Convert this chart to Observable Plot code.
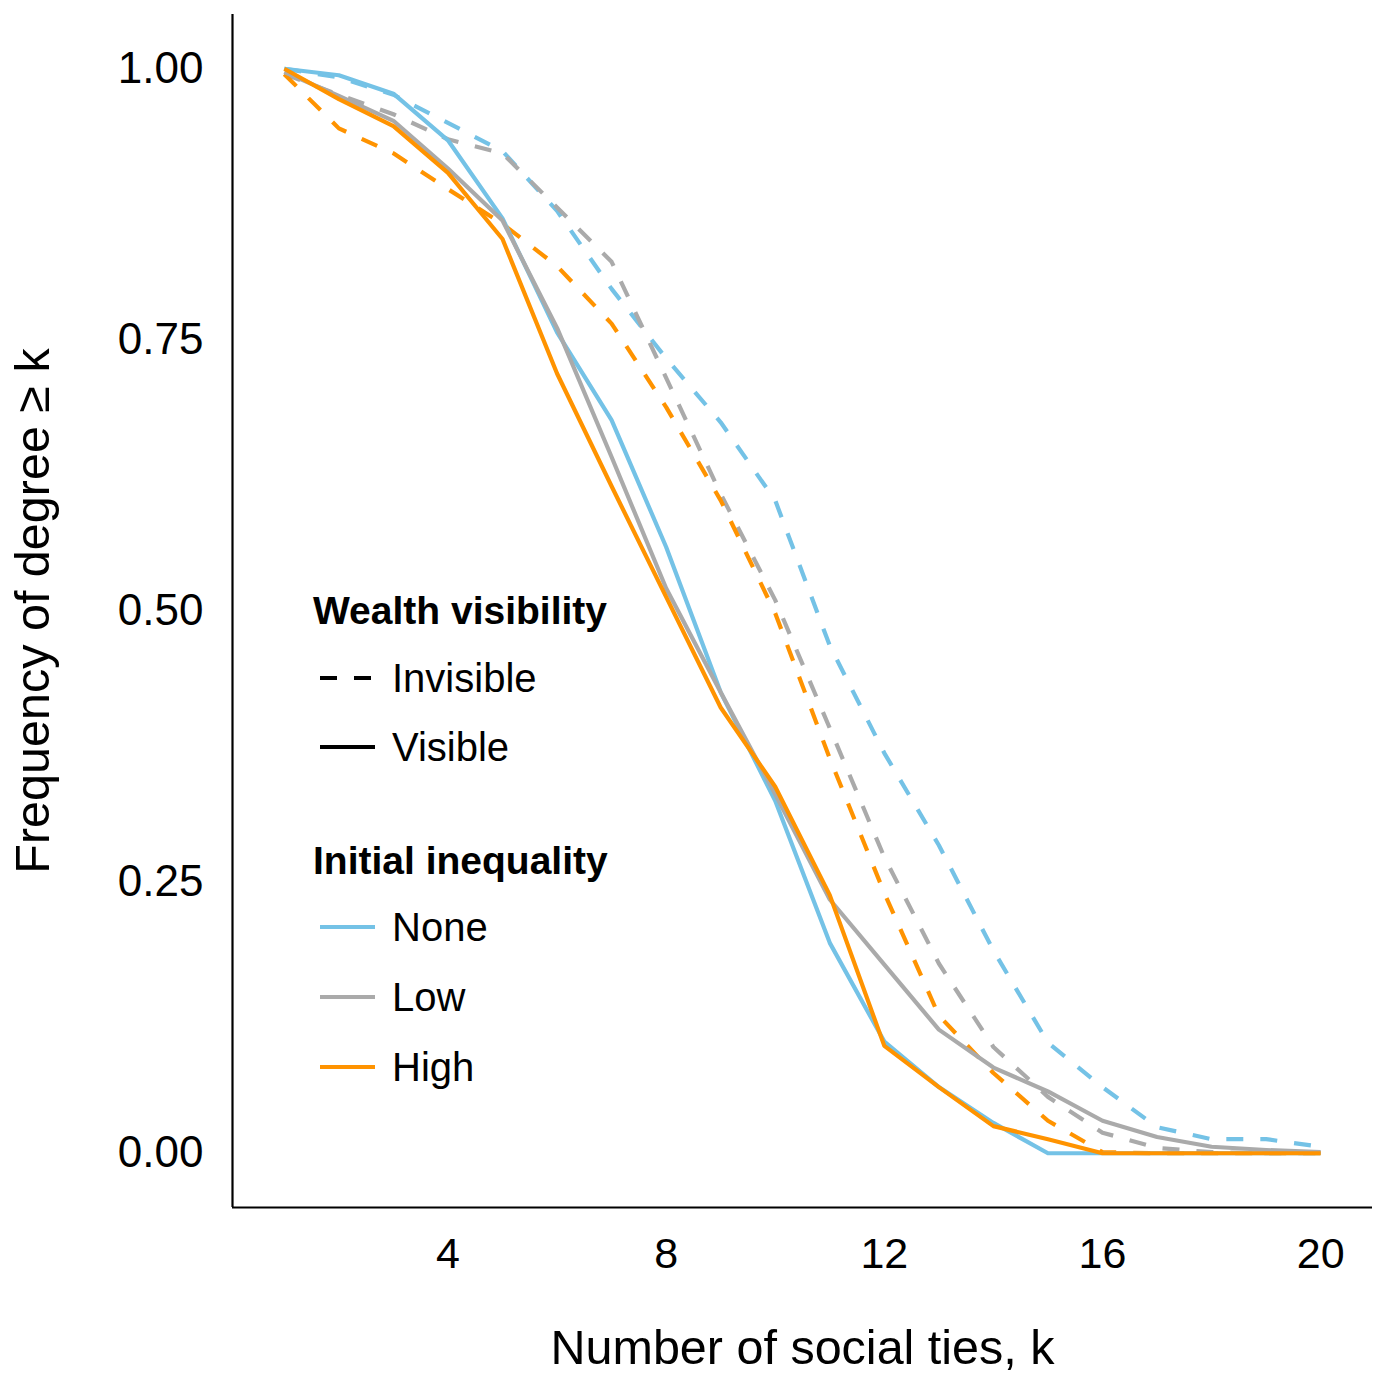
<!DOCTYPE html>
<html>
<head>
<meta charset="utf-8">
<script src="https://cdn.jsdelivr.net/npm/d3@7"></script>
<script src="https://cdn.jsdelivr.net/npm/@observablehq/plot@0.6"></script>
<style>
  body { margin: 0; background: #fff; }
  #wrap { position: relative; width: 1378px; height: 1376px; font-family: "Liberation Sans", Arial, sans-serif; }
  .lg { position: absolute; left: 313px; white-space: nowrap; color: #000; }
  .lg.title { font-weight: bold; font-size: 39px; }
  .lg.item { font-size: 40px; display: flex; align-items: center; left: 320px; }
  .lg.item svg { margin-right: 17px; }
</style>
</head>
<body>
<div id="wrap"></div>
<script>
const ks = [1,2,3,4,5,6,7,8,9,10,11,12,13,14,15,16,17,18,19,20];
const xTicks = [4, 8, 12, 16, 20];
const yTicks = [0, 0.25, 0.5, 0.75, 1];
const inequalityLevels = ["None", "Low", "High"];
const visibilityLevels = ["Invisible", "Visible"];
const inequalityColors = ["#74c2e6", "#aaaaaa", "#ff9300"];

const noneVisible = [1.000, 0.994, 0.977, 0.934, 0.862, 0.757, 0.676, 0.559, 0.425, 0.325, 0.194, 0.103, 0.061, 0.028, 0.000, 0.000, 0.000, 0.000, 0.000, 0.000];
const lowVisible  = [0.997, 0.975, 0.952, 0.908, 0.860, 0.761, 0.642, 0.521, 0.425, 0.331, 0.234, 0.174, 0.114, 0.079, 0.057, 0.030, 0.015, 0.006, 0.003, 0.001];
const highVisible = [1.000, 0.972, 0.947, 0.904, 0.843, 0.719, 0.615, 0.513, 0.411, 0.338, 0.238, 0.099, 0.061, 0.025, 0.013, 0.000, 0.000, 0.000, 0.000, 0.000];
const noneInvisible = [1.000, 0.992, 0.976, 0.950, 0.924, 0.869, 0.797, 0.733, 0.674, 0.602, 0.468, 0.369, 0.284, 0.187, 0.102, 0.061, 0.024, 0.013, 0.013, 0.006];
const lowInvisible  = [0.995, 0.976, 0.958, 0.935, 0.922, 0.872, 0.822, 0.715, 0.608, 0.510, 0.392, 0.273, 0.175, 0.098, 0.052, 0.019, 0.005, 0.001, 0.000, 0.000];
const highInvisible = [0.995, 0.945, 0.922, 0.889, 0.857, 0.818, 0.765, 0.688, 0.602, 0.498, 0.364, 0.240, 0.127, 0.074, 0.030, 0.001, 0.000, 0.000, 0.000, 0.000];

const seriesList = [
  {ineq: "None", vis: "Invisible", values: noneInvisible},
  {ineq: "Low", vis: "Invisible", values: lowInvisible},
  {ineq: "High", vis: "Invisible", values: highInvisible},
  {ineq: "None", vis: "Visible", values: noneVisible},
  {ineq: "Low", vis: "Visible", values: lowVisible},
  {ineq: "High", vis: "Visible", values: highVisible}
];
const rows = seriesList.flatMap(s => ks.map((k, i) => ({k, v: s.values[i], ineq: s.ineq, vis: s.vis, key: s.vis + "-" + s.ineq})));

const DASH = "17,17";
const lineMarks = seriesList.map(s => Plot.line(rows.filter(d => d.key === s.vis + "-" + s.ineq), {
  x: "k", y: "v",
  stroke: {value: d => d.ineq, scale: "color"},
  strokeWidth: 4.2,
  strokeDasharray: s.vis === "Invisible" ? DASH : null,
  strokeLinejoin: "round", strokeLinecap: "butt"
}));

const chart = Plot.plot({
  width: 1378,
  height: 1376,
  marginTop: 14,
  marginBottom: 169,
  marginLeft: 232,
  marginRight: 6,
  style: {fontFamily: "Liberation Sans, Arial, sans-serif", background: "#fff", color: "#000", overflow: "visible"},
  x: {domain: [0.05, 20.95], label: null},
  y: {domain: [-0.05, 1.05], label: null},
  color: {type: "ordinal", domain: inequalityLevels, range: inequalityColors},
  marks: [
    Plot.axisX({ticks: xTicks, tickSize: 0, tickPadding: 30, fontSize: 43, tickFormat: d3.format("d"), label: null}),
    Plot.axisY({ticks: yTicks, tickSize: 0, tickPadding: 29, fontSize: 44, tickFormat: d3.format(".2f"), label: null}),
    ...lineMarks,
    Plot.ruleX([0.05], {stroke: "#000", strokeWidth: 2.2}),
    Plot.ruleY([-0.05], {stroke: "#000", strokeWidth: 2.2}),
    Plot.text(["Number of social ties, k"], {frameAnchor: "bottom", dy: 156, fontSize: 48.5, fill: "#000", textAnchor: "middle"}),
    Plot.text(["Frequency of degree ≥ k"], {frameAnchor: "left", dx: -199, rotate: -90, fontSize: 48.5, fill: "#000", textAnchor: "middle"})
  ]
});

const wrap = document.getElementById("wrap");
wrap.appendChild(chart);

function addTitle(text, cy) {
  const el = document.createElement("div");
  el.className = "lg title";
  el.textContent = text;
  el.style.top = (cy - 22) + "px";
  el.style.height = "44px";
  el.style.lineHeight = "44px";
  wrap.appendChild(el);
}
function addItem(text, cy, color, dashed) {
  const el = document.createElement("div");
  el.className = "lg item";
  el.style.top = (cy - 23) + "px";
  el.style.height = "46px";
  const ns = "http://www.w3.org/2000/svg";
  const s = document.createElementNS(ns, "svg");
  s.setAttribute("width", 55); s.setAttribute("height", 10);
  const l = document.createElementNS(ns, "line");
  l.setAttribute("x1", 0); l.setAttribute("x2", 55); l.setAttribute("y1", 5); l.setAttribute("y2", 5);
  l.setAttribute("stroke", color); l.setAttribute("stroke-width", 4.2);
  if (dashed) l.setAttribute("stroke-dasharray", DASH);
  s.appendChild(l);
  el.appendChild(s);
  const t = document.createElement("span");
  t.textContent = text;
  el.appendChild(t);
  wrap.appendChild(el);
}
addTitle("Wealth visibility", 611);
addItem(visibilityLevels[0], 678, "#000", true);
addItem(visibilityLevels[1], 747, "#000", false);
addTitle("Initial inequality", 861);
addItem(inequalityLevels[0], 927, inequalityColors[0], false);
addItem(inequalityLevels[1], 997, inequalityColors[1], false);
addItem(inequalityLevels[2], 1067, inequalityColors[2], false);
</script>
</body>
</html>
